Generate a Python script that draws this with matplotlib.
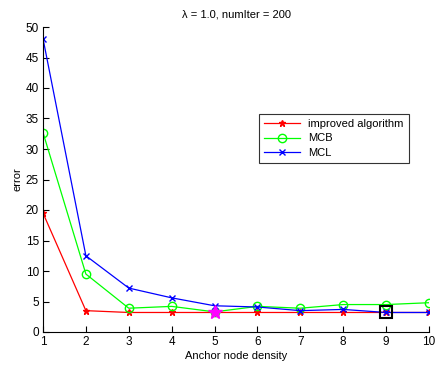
import numpy as np
import matplotlib
matplotlib.use('Agg')
import matplotlib.pyplot as plt

plt.rcParams['font.family'] = ['Liberation Sans', 'DejaVu Sans']
plt.rcParams['font.size'] = 8

# data
density = [1, 2, 3, 4, 5, 6, 7, 8, 9, 10]
improved = [19.5, 3.5, 3.2, 3.2, 3.2, 3.2, 3.2, 3.2, 3.2, 3.2]
mcb = [32.7, 9.5, 3.9, 4.2, 3.3, 4.2, 3.9, 4.5, 4.5, 4.8]
mcl = [48.1, 12.5, 7.2, 5.6, 4.3, 4.1, 3.5, 3.7, 3.2, 3.2]
star_pt = (5, 3.3)
square_pt = (9, 3.2)

fig = plt.figure(figsize=(4.36, 3.65), dpi=100)
ax = fig.add_axes([43/436, 1 - 332/365, (429-43)/436, (332-27)/365])

ax.plot(density, improved, color='#ff0000', marker='*', ms=5, lw=0.9, label='improved algorithm')
ax.plot(density, mcb, color='#00ff00', marker='o', ms=6, mfc='none', lw=0.9, label='MCB')
ax.plot(density, mcl, color='#0000ff', marker='x', ms=4, lw=0.9, label='MCL')

# highlighted points
ax.plot(*star_pt, marker='*', color='#ff00ff', ms=10, ls='none')
ax.plot(*square_pt, marker='s', mfc='none', mec='black', mew=1.5, ms=9, ls='none')

ax.set_xlim(1, 10)
ax.set_ylim(0, 50)
ax.set_xticks(density)
ax.set_yticks(np.arange(0, 51, 5))
ax.tick_params(direction='in', length=4, width=0.8, pad=3, labelsize=8.5)
ax.spines['top'].set_visible(False)
ax.spines['right'].set_visible(False)

ax.set_title('λ = 1.0, numIter = 200', fontsize=8, pad=7)
ax.set_xlabel('Anchor node density', labelpad=2)
ax.set_ylabel('error', labelpad=2)

leg = ax.legend(loc='upper left', bbox_to_anchor=((259-43)/386, 1 - (114-27)/305),
                borderaxespad=0, fancybox=False, edgecolor='#333333', framealpha=1,
                borderpad=0.45, handlelength=3.2, labelspacing=0.4, fontsize=8)
leg.get_frame().set_linewidth(0.8)

fig.savefig('out.png', dpi=100)
